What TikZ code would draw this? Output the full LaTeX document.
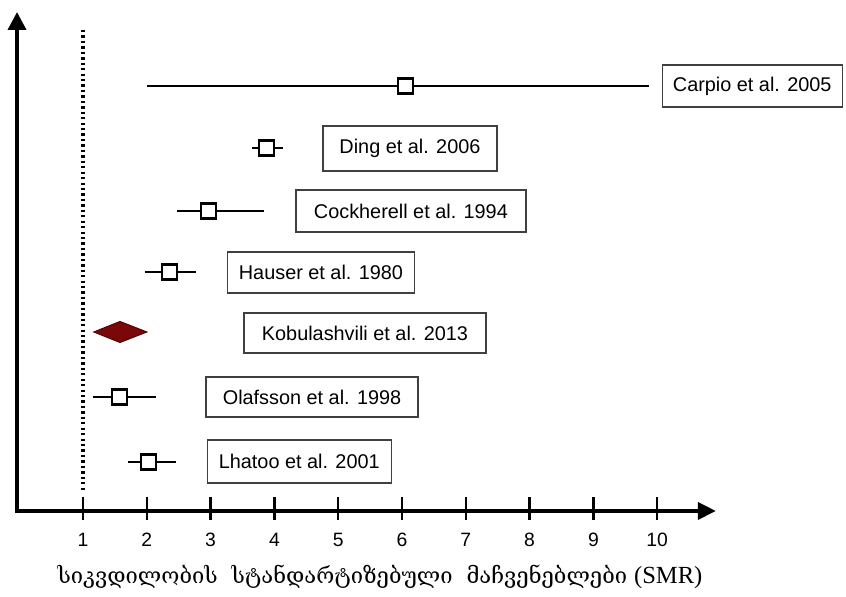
\documentclass[tikz,border=0pt]{standalone}
\usepackage{fontspec}
\setmainfont{Liberation Sans}
\newfontfamily\georgfont{DejaVu Serif}
\newfontfamily\serfont{Liberation Serif}
\usetikzlibrary{arrows.meta}
\definecolor{pooledred}{RGB}{122,8,8}

\begin{document}
\begin{tikzpicture}[x=1.276cm, y=1cm,
    study/.style={draw=black!75, line width=0.8pt, fill=white, inner sep=0pt, font=\fontsize{11.3}{13}\selectfont},
    estbox/.style={draw, line width=1.2pt, fill=white, minimum size=0.3cm, inner sep=0pt},
    ci/.style={line width=1.1pt},
    tick/.style={line width=1.4pt},
    ticklabel/.style={font=\fontsize{11}{13}\selectfont}]
    \useasboundingbox (-0.301,0) rectangle (12.96,11.94);

    % Axes
    \coordinate (origin) at (-0.034,1.72);
    \coordinate (ytip) at (-0.034,11.70);
    \coordinate (xtip) at (10.92,1.72);
    \draw[line width=2.1pt, {Triangle[length=0.36cm, width=0.36cm]}-{Triangle[length=0.36cm, width=0.34cm]}] (ytip) -- (origin) -- (xtip);

    % Ticks
    \draw[tick] (1,1.54) -- (1,2.0) node[ticklabel, pos=0, below=0.12cm] (t1) {1};
    \draw[tick] (2,1.54) -- (2,2.0) node[ticklabel, pos=0, below=0.12cm] (t2) {2};
    \draw[tick] (3,1.54) -- (3,2.0) node[ticklabel, pos=0, below=0.12cm] (t3) {3};
    \draw[tick] (4,1.54) -- (4,2.0) node[ticklabel, pos=0, below=0.12cm] (t4) {4};
    \draw[tick] (5,1.54) -- (5,2.0) node[ticklabel, pos=0, below=0.12cm] (t5) {5};
    \draw[tick] (6,1.54) -- (6,2.0) node[ticklabel, pos=0, below=0.12cm] (t6) {6};
    \draw[tick] (7,1.54) -- (7,2.0) node[ticklabel, pos=0, below=0.12cm] (t7) {7};
    \draw[tick] (8,1.54) -- (8,2.0) node[ticklabel, pos=0, below=0.12cm] (t8) {8};
    \draw[tick] (9,1.54) -- (9,2.0) node[ticklabel, pos=0, below=0.12cm] (t9) {9};
    \draw[tick] (10,1.54) -- (10,2.0) node[ticklabel, pos=0, below=0.12cm] (t10) {10};

    % Axis title
    \node[font=\georgfont\fontsize{12.5}{14}\selectfont] (xlabel) at (5.655,0.40)
      {სიკვდილობის\ \ სტანდარტიზებული\ \ მაჩვენებლები {\serfont\fontsize{14}{16}\selectfont(SMR)}};

    % Reference line SMR = 1
    \draw[line width=2pt, dash pattern=on 1.3pt off 1.8pt] (1,11.34) -- (1,2.14);

    % Studies
    \draw[ci] (2.0,10.22) -- (9.87,10.22);
    \node[estbox] (carpioest) at (6.05,10.22) {};
    \node[study, minimum width=3.6cm, minimum height=0.84cm] (carpio) at (11.49,10.22) {Carpio et al. 2005};

    \draw[ci] (3.65,8.98) -- (4.13,8.98);
    \node[estbox] (dingest) at (3.88,8.98) {};
    \node[study, minimum width=3.48cm, minimum height=0.9cm] (ding) at (6.125,8.97) {Ding et al. 2006};

    \draw[ci] (2.47,7.72) -- (3.84,7.72);
    \node[estbox] (cockherellest) at (2.97,7.72) {};
    \node[study, minimum width=4.6cm, minimum height=0.84cm] (cockherell) at (6.14,7.72) {Cockherell et al. 1994};

    \draw[ci] (1.97,6.50) -- (2.77,6.50);
    \node[estbox] (hauserest) at (2.36,6.50) {};
    \node[study, minimum width=3.74cm, minimum height=0.82cm] (hauser) at (4.73,6.49) {Hauser et al. 1980};

    % Pooled estimate
    \draw[fill=pooledred, draw=pooledred!70!black, line width=0.6pt] (1.17,5.30) -- (1.58,5.51) -- (2.0,5.30) -- (1.58,5.09) -- cycle;
    \node[study, minimum width=4.84cm, minimum height=0.8cm] (kobulashvili) at (5.42,5.28) {Kobulashvili et al. 2013};

    \draw[ci] (1.16,4.00) -- (2.14,4.00);
    \node[estbox] (olafssonest) at (1.57,4.00) {};
    \node[study, minimum width=4.24cm, minimum height=0.8cm] (olafsson) at (4.59,4.00) {Olafsson et al. 1998};

    \draw[ci] (1.71,2.70) -- (2.46,2.70);
    \node[estbox] (lhatooest) at (2.03,2.70) {};
    \node[study, minimum width=3.68cm, minimum height=0.86cm] (lhatoo) at (4.39,2.71) {Lhatoo et al. 2001};
  \end{tikzpicture}
\end{document}
